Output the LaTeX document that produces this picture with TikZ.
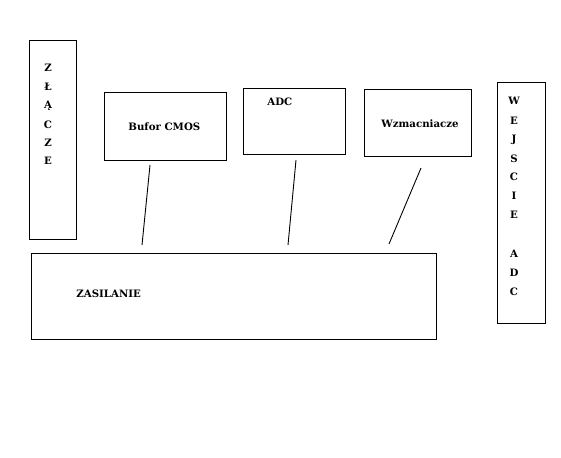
\documentclass[tikz,border=0pt]{standalone}
\usepackage{fontspec}
\setmainfont{DejaVu Serif}
\begin{document}
\begin{tikzpicture}[x=1pt,y=-1pt,line width=0.9pt,
  blk/.style={draw=black,rectangle,inner sep=0pt,anchor=north west},
  lbl/.style={font=\fontsize{10.2}{12}\selectfont\bfseries,inner sep=0pt,anchor=west},
  vlbl/.style={font=\fontsize{10.2}{12}\selectfont\bfseries,inner sep=0pt}]
\useasboundingbox[fill=white] (0,0) rectangle (561,457);
% boxes
\node[blk,minimum width=47pt,minimum height=199pt] (zl) at (29,40) {};
\node[blk,minimum width=122pt,minimum height=68pt] (buf) at (104,92) {};
\node[blk,minimum width=102pt,minimum height=66pt] (adc) at (243,88) {};
\node[blk,minimum width=107pt,minimum height=67pt] (wzm) at (364,89) {};
\node[blk,minimum width=48pt,minimum height=241pt] (wej) at (497,82) {};
\node[blk,minimum width=405pt,minimum height=86pt] (zas) at (31,253) {};
% texts
\node[lbl] (tbuf) at (128,127) {Bufor CMOS};
\node[lbl] (tadc) at (267,102) {ADC};
\node[lbl] (twzm) at (381,124) {Wzmacniacze};
\node[lbl] (tzas) at (76,294) {ZASILANIE};
\foreach \c/\y [count=\i] in {Z/68,Ł/87,Ą/106,C/125,Z/143,E/161}
  \node[vlbl] (zl\i) at (48,\y) {\c};
\foreach \c/\y [count=\i] in {W/101,E/121,J/140,S/159,C/177,I/196,E/215,A/254,D/273,C/292}
  \node[vlbl] (wj\i) at (514,\y) {\c};
% connectors
\coordinate (b1) at (150,165); \coordinate (b2) at (142,245);
\coordinate (a1) at (296,160); \coordinate (a2) at (288,245);
\coordinate (w1) at (421,168); \coordinate (w2) at (389,244);
\draw (b1) -- (b2);
\draw (a1) -- (a2);
\draw (w1) -- (w2);
\end{tikzpicture}
\end{document}
